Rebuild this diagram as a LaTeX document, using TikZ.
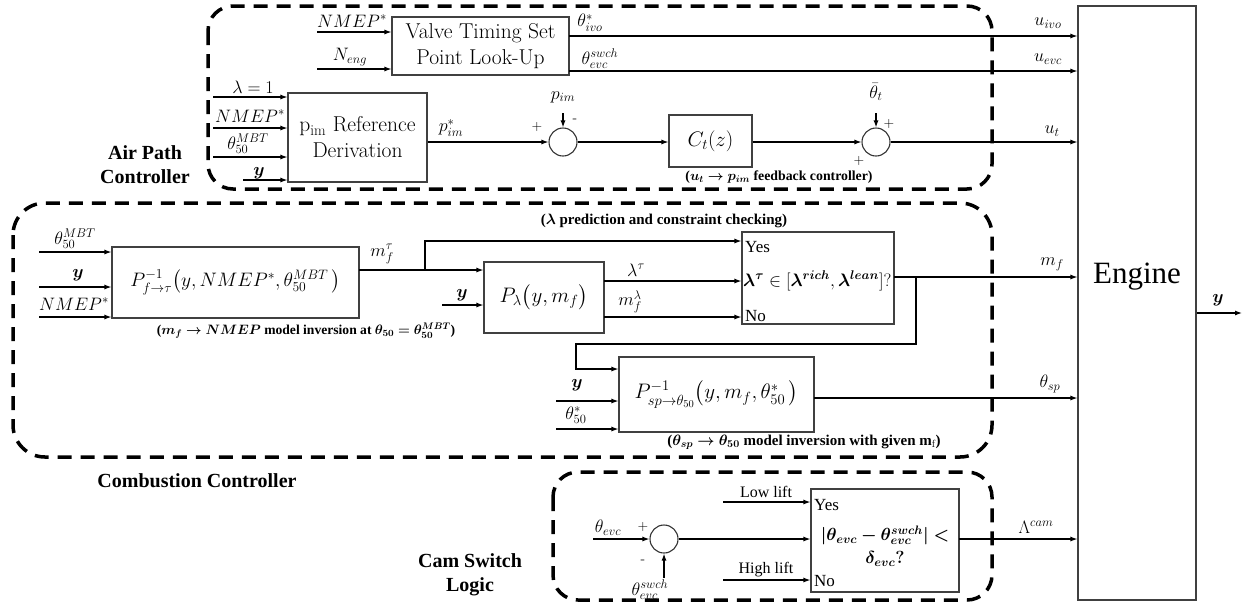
\RequirePackage{fix-cm}
\documentclass[tikz,border=0pt]{standalone}
\usepackage{amsmath,amssymb,bm}
\usepackage{fontspec}
\newfontfamily\tnr{Liberation Serif}
\usetikzlibrary{arrows.meta}
\begin{document}
\begin{tikzpicture}[x=1pt,y=-1pt,
  blk/.style={draw=black!75,line width=1.1pt,inner sep=0pt,align=center},
  sumc/.style={circle,draw=black!80,line width=1.1pt,minimum size=28pt,inner sep=0pt},
  arr/.style={-{Latex[length=7pt,width=5pt]},line width=1.2pt},
  dbox/.style={draw,line width=3.5pt,dash pattern=on 14pt off 9pt},
  lab/.style={font=\fontsize{18}{20}\selectfont,inner sep=0pt},
  sml/.style={font=\fontsize{14}{16}\selectfont,inner sep=0pt},
  boxtxt/.style={font=\fontsize{21.5}{26}\selectfont},
  boxmath/.style={font=\fontsize{21}{24}\selectfont},
  captxt/.style={font=\tnr\bfseries\fontsize{#1}{16}\selectfont,inner sep=0pt},
  captxt/.default=14,
  grp/.style={font=\tnr\bfseries\fontsize{20}{24}\selectfont,inner sep=0pt,align=center},
  tms/.style={font=\tnr\fontsize{16}{18}\selectfont,inner sep=0pt},
  yn/.style={font=\tnr\fontsize{17}{19}\selectfont,inner sep=0pt,anchor=west}
]
\useasboundingbox (0,0) rectangle (1249,606);

% ---------- dashed group boxes ----------
\draw[dbox,rounded corners=25pt] (208,6) rectangle (992,189);
\draw[dbox,rounded corners=32pt] (13,203) rectangle (992,457);
\draw[dbox,rounded corners=25pt] (553,472) rectangle (992,600);

\node[grp] (gap) at (145,165) {Air Path\\Controller};
\node[grp] (gcc) at (197,481) {Combustion Controller};
\node[grp] (gcs) at (470,575) {Cam Switch\\Logic};

% ---------- blocks ----------
\node[blk,minimum width=177pt,minimum height=58pt,boxtxt] (valve) at (480.5,46) {Valve Timing Set\\Point Look-Up};
\node[blk,minimum width=139pt,minimum height=89pt,boxtxt] (pref) at (357.5,137.5) {p$_{\mathrm{im}}$ Reference\\Derivation};
\node[sumc] (s1) at (563,142) {};
\node[blk,minimum width=83pt,minimum height=52pt,boxmath] (ct) at (710.5,141) {$C_t(z)$};
\node[sumc] (s2) at (876,142) {};
\node[blk,minimum width=118pt,minimum height=594pt] (eng) at (1137,303) {};
\node[font=\tnr\fontsize{31}{33}\selectfont,inner sep=0pt] (engt) at (1137,277) {Engine};

\node[blk,minimum width=247pt,minimum height=71pt,font=\fontsize{19.5}{24}\selectfont] (pf) at (235.5,282.5) {$P^{-1}_{f\rightarrow\tau}\bigl(y,NMEP^{*},\theta^{MBT}_{50}\,\bigr)$};
\node[blk,minimum width=120pt,minimum height=71pt,boxmath] (pl) at (544,297.5) {$P_{\lambda}\bigl(y,m_f\bigr)$};
\node[blk,minimum width=152pt,minimum height=92pt] (d1) at (818,278) {};
\node[blk,minimum width=195pt,minimum height=75pt,boxmath] (psp) at (716.5,394.5) {$P^{-1}_{sp\rightarrow\theta_{50}}\bigl(y,m_f,\theta^{*}_{50}\,\bigr)$};

\node[sumc] (s3) at (664,539) {};
\node[blk,minimum width=148pt,minimum height=103pt] (d2) at (885,540.5) {};

% texts inside decision boxes
\node[yn] (y1) at (745,247) {Yes};
\node[anchor=west,inner sep=0pt,font=\fontsize{18}{20}\selectfont] (c1) at (743,281) {$\bm{\lambda^{\tau}}\in[\bm{\lambda^{rich}},\bm{\lambda^{lean}}]$?};
\node[yn] (n1) at (745,316) {No};

\node[yn] (y2) at (814,505) {Yes};
\node[inner sep=0pt,align=center,font=\fontsize{17.5}{23}\selectfont] (c2) at (885,546) {$\bm{|\theta_{evc}-\theta^{swch}_{evc}|<}$\\$\bm{\delta_{evc}?}$};
\node[yn] (n2) at (814,581) {No};

% ---------- air path connectors ----------
\coordinate (a1) at (317,32);
\coordinate (a2) at (317,69);
\draw[arr] (a1) -- (a1 -| valve.west);
\draw[arr] (a2) -- (a2 -| valve.west);
\node[lab] (la1) at (352,21) {$NMEP^{*}$};
\node[lab] (la2) at (350,57) {$N_{eng}$};

\coordinate (v1) at (569,36);
\coordinate (v2) at (569,71);
\draw[arr] (v1) -- (v1 -| eng.west);
\draw[arr] (v2) -- (v2 -| eng.west);
\node[lab] (lv1) at (590,23) {$\theta^{*}_{ivo}$};
\node[lab] (lv2) at (600,59) {$\theta^{swch}_{evc}$};
\node[lab] (lu1) at (1048,23) {$u_{ivo}$};
\node[lab] (lu2) at (1048,59) {$u_{evc}$};

\coordinate (b1) at (213,97);
\coordinate (b2) at (213,128);
\coordinate (b3) at (213,157);
\coordinate (b4) at (243,180);
\draw[arr] (b1) -- (b1 -| pref.west);
\draw[arr] (b2) -- (b2 -| pref.west);
\draw[arr] (b3) -- (b3 -| pref.west);
\draw[arr] (b4) -- (b4 -| pref.west);
\node[lab] (lb1) at (253,87) {$\lambda=1$};
\node[lab] (lb2) at (250,116) {$NMEP^{*}$};
\node[lab] (lb3) at (248,144) {$\theta^{MBT}_{50}$};
\node[lab] (lb4) at (259,173) {$\bm{y}$};

\draw[arr] (pref.east |- s1) -- (s1.west);
\node[lab] (lp) at (451,128) {$p^{*}_{im}$};
\coordinate (pt) at (563,113);
\draw[arr] (pt) -- (s1.north);
\node[lab] (lpt) at (563,97) {$p_{im}$};
\node[sml] at (537,127) {+};
\node[sml] at (575,121) {-};
\draw[arr] (s1.east) -- (ct.west |- s1);
\draw[arr] (ct.east |- s2) -- (s2.west);
\coordinate (tt) at (876,113);
\draw[arr] (tt) -- (s2.north);
\node[lab] (ltt) at (876,92) {$\bar{\theta}_{t}$};
\node[sml] at (889,124) {+};
\node[sml] at (859,161) {+};
\draw[arr] (s2.east) -- (s2 -| eng.west);
\node[lab] (lut) at (1052,131) {$u_{t}$};
\node[captxt=13.8] (capct) at (779,177) {($\bm{u_t\rightarrow p_{im}}$ feedback controller)};

% ---------- combustion connectors ----------
\coordinate (c1a) at (39,252);
\coordinate (c1b) at (39,287);
\coordinate (c1c) at (39,317);
\draw[arr] (c1a) -- (c1a -| pf.west);
\draw[arr] (c1b) -- (c1b -| pf.west);
\draw[arr] (c1c) -- (c1c -| pf.west);
\node[lab] (lc1) at (75,239) {$\theta^{MBT}_{50}$};
\node[lab] (lc2) at (78,275) {$\bm{y}$};
\node[lab] (lc3) at (74,304) {$NMEP^{*}$};
\node[captxt=13.6] (cappf) at (306,331) {($\bm{m_f\rightarrow NMEP}$ model inversion at $\bm{\theta_{50}=\theta^{MBT}_{50}}$)};

\coordinate (mt) at (359,270);
\coordinate (br) at (425,270);
\draw[arr] (mt) -- (mt -| pl.west);
\draw[arr] (br) -- (425,241) -- (d1.west |- 0,241);
\node[lab] (lmt) at (382,254) {$m^{\tau}_{f}$};
\coordinate (py) at (442,305);
\draw[arr] (py) -- (py -| pl.west);
\node[lab] (lpy) at (462,295) {$\bm{y}$};
\node[captxt=15] (capl) at (664,221) {($\bm{\lambda}$ prediction and constraint checking)};

\coordinate (l1) at (604,281);
\coordinate (l2) at (604,317);
\draw[arr] (l1) -- (l1 -| d1.west);
\draw[arr] (l2) -- (l2 -| d1.west);
\node[lab] (ll1) at (636,270) {$\lambda^{\tau}$};
\node[lab] (ll2) at (630,302) {$m^{\lambda}_{f}$};

\coordinate (o1) at (894,277);
\coordinate (ob) at (916,277);
\draw[arr] (o1) -- (o1 -| eng.west);
\node[lab] (lmf) at (1052,264) {$m_{f}$};
\draw[arr] (ob) -- (916,344) -- (576,344) -- (576,369) -- (psp.west |- 0,369);

\coordinate (q1) at (556,401);
\coordinate (q2) at (556,429);
\draw[arr] (q1) -- (q1 -| psp.west);
\draw[arr] (q2) -- (q2 -| psp.west);
\node[lab] (lq1) at (577,385) {$\bm{y}$};
\node[lab] (lq2) at (576,415) {$\theta^{*}_{50}$};
\coordinate (o2) at (814,398);
\draw[arr] (o2) -- (o2 -| eng.west);
\node[lab] (lsp) at (1050,384) {$\theta_{sp}$};
\node[captxt=15] (capsp) at (804,442) {($\bm{\theta_{sp}\rightarrow\theta_{50}}$ model inversion with given m$_{\mathrm{f}}$)};

% ---------- cam switch connectors ----------
\coordinate (e1) at (593,539);
\draw[arr] (e1) -- (s3.west);
\node[lab] (le1) at (608,528) {$\theta_{evc}$};
\node[sml] at (643,527) {+};
\coordinate (e2) at (664,578);
\draw[arr] (e2) -- (s3.south);
\node[lab] (le2) at (650,590) {$\theta^{swch}_{evc}$};
\node[sml] at (643,562) {-};
\draw[arr] (s3.east) -- (s3 -| d2.west);
\coordinate (f1) at (723,502);
\coordinate (f2) at (723,580);
\draw[arr] (f1) -- (f1 -| d2.west);
\draw[arr] (f2) -- (f2 -| d2.west);
\node[tms] (lf1) at (766,492) {Low lift};
\node[tms] (lf2) at (766,570) {High lift};
\coordinate (o3) at (959,539);
\draw[arr] (o3) -- (o3 -| eng.west);
\node[lab] (lcam) at (1036,527) {$\Lambda^{cam}$};

% ---------- engine output ----------
\coordinate (yo) at (1242,313);
\draw[arr] (eng.east |- yo) -- (yo);
\node[lab] (lyo) at (1218,300) {$\bm{y}$};
\end{tikzpicture}
\end{document}
